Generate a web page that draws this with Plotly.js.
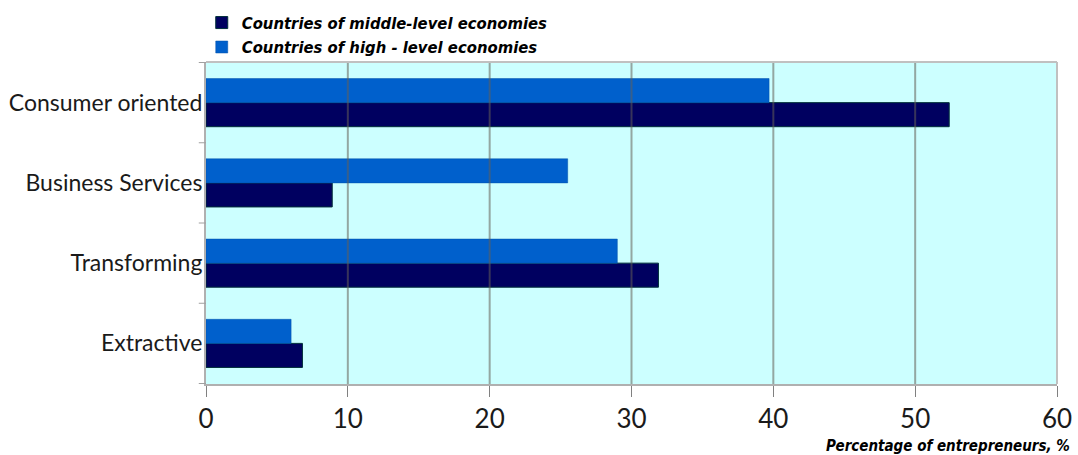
<!DOCTYPE html>
<html>
<head>
<meta charset="utf-8">
<script src="https://cdn.plot.ly/plotly-3.0.1.min.js"></script>
<style>
  html, body { margin: 0; padding: 0; background: #ffffff; }
  #chart { width: 1078px; height: 455px; }
</style>
</head>
<body>
<div id="chart"></div>
<script>
// Sectors, listed from top to bottom as they appear on the chart
const sectors = ["Consumer oriented", "Business Services", "Transforming", "Extractive"];

// Share of entrepreneurs by sector, %
const middleLevel = [52.4, 8.9, 31.9, 6.8];
const highLevel = [39.7, 25.5, 29.0, 6.0];

const seriesNames = ["Countries of middle-level economies", "Countries of high - level economies"];
const xTicks = [0, 10, 20, 30, 40, 50, 60];

const narrowBold = '"Liberation Sans Narrow", "DejaVu Sans Condensed", Arial, sans-serif';
const labelFont = 'Lato, "Noto Sans", sans-serif';

const traces = [
  {
    type: "bar",
    orientation: "h",
    name: seriesNames[0],
    y: sectors,
    x: middleLevel,
    marker: { color: "#000060", line: { color: "#00303a", width: 1 } },
    hoverinfo: "x+y"
  },
  {
    type: "bar",
    orientation: "h",
    name: seriesNames[1],
    y: sectors,
    x: highLevel,
    marker: { color: "#0060cc", line: { color: "#0050a8", width: 0.5 } },
    hoverinfo: "x+y"
  }
];

// vertical grid lines drawn over the bars
const shapes = xTicks.slice(1, -1).map(v => ({
  type: "line", xref: "x", yref: "paper",
  x0: v, x1: v, y0: 0, y1: 1,
  layer: "above",
  line: { color: "rgba(100,95,85,0.55)", width: 2 }
}));
// frame on top and right of the plot area
shapes.push({
  type: "line", xref: "paper", yref: "paper", x0: 0, x1: 1, y0: 1, y1: 1,
  layer: "above", line: { color: "#c0c0c0", width: 2 }
});
shapes.push({
  type: "line", xref: "paper", yref: "paper", x0: 1, x1: 1, y0: 0, y1: 1,
  layer: "above", line: { color: "#c0c0c0", width: 2 }
});
// short outward ticks on the category boundaries of the left axis
for (let i = 0; i <= sectors.length; i++) {
  shapes.push({
    type: "line", xref: "paper", yref: "y",
    x0: -0.0085, x1: 0, y0: i - 0.5, y1: i - 0.5,
    layer: "above", line: { color: "#a0a0a0", width: 1 }
  });
}

const layout = {
  width: 1078,
  height: 455,
  margin: { l: 206, r: 21, t: 62, b: 71, autoexpand: false },
  paper_bgcolor: "#ffffff",
  plot_bgcolor: "#ccffff",
  barmode: "group",
  bargap: 0.4,
  bargroupgap: 0,
  showlegend: true,
  legend: {
    orientation: "v",
    x: -0.005, xanchor: "left",
    y: 1.176, yanchor: "top",
    bgcolor: "rgba(0,0,0,0)",
    traceorder: "normal",
    font: { family: narrowBold, size: 16.5, color: "#000000", weight: "bold", style: "italic" }
  },
  xaxis: {
    range: [0, 60],
    tickvals: xTicks,
    ticktext: xTicks.map(String),
    showgrid: false,
    zeroline: false,
    showline: true,
    linecolor: "#b0b0b0",
    linewidth: 2,
    ticks: "outside",
    ticklen: 11,
    tickwidth: 1,
    tickcolor: "#808080",
    tickfont: { family: labelFont, size: 26, color: "#1a1a1a" },
    fixedrange: true
  },
  yaxis: {
    type: "category",
    categoryorder: "array",
    categoryarray: sectors.slice().reverse(),
    showgrid: false,
    zeroline: false,
    showline: true,
    linecolor: "#b0b0b0",
    linewidth: 2,
    ticks: "",
    ticklabelstandoff: -3,
    tickfont: { family: labelFont, size: 23, color: "#1a1a1a" },
    fixedrange: true
  },
  shapes: shapes,
  annotations: [
    {
      text: "Percentage of entrepreneurs, %",
      xref: "paper", yref: "paper",
      x: 1.018, xanchor: "right",
      y: -0.193, yanchor: "middle",
      showarrow: false,
      font: { family: narrowBold, size: 15, color: "#000000", weight: "bold", style: "italic" }
    }
  ]
};

Plotly.newPlot("chart", traces, layout, { displayModeBar: false, staticPlot: true });
</script>
</body>
</html>
